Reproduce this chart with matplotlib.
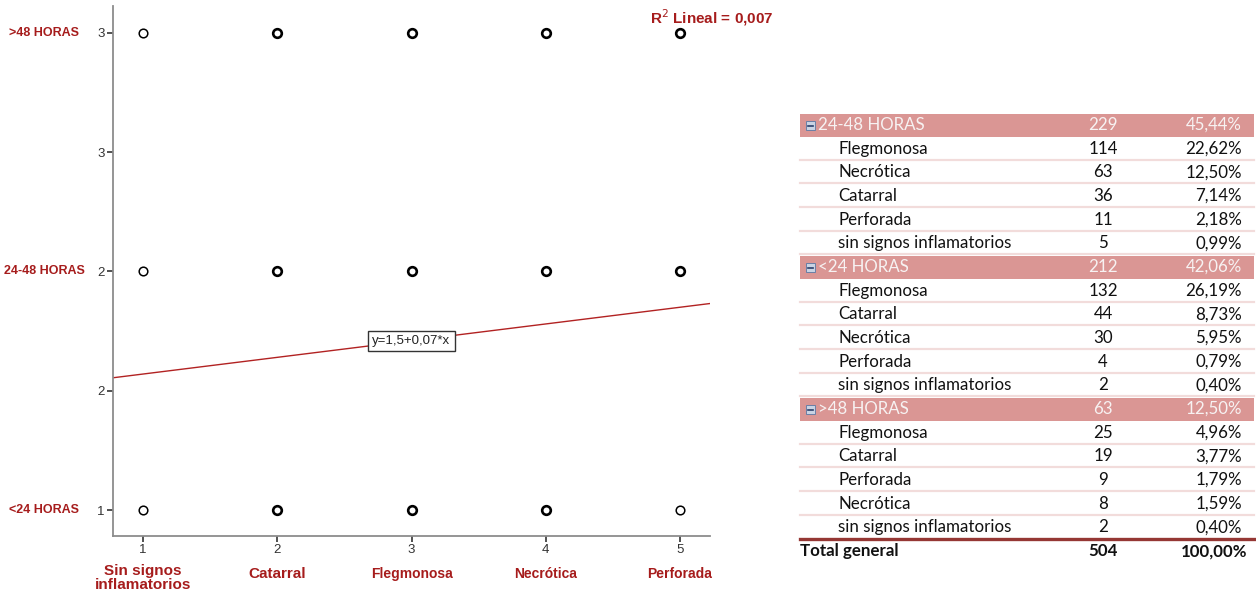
import numpy as np
import matplotlib
matplotlib.use("Agg")
import matplotlib.pyplot as plt
from matplotlib.patches import Rectangle

# Data
CATEGORIES = ["Sin signos\ninflamatorios", "Catarral", "Flegmonosa", "Necrótica", "Perforada"]
CAT_KEYS = ["sin signos inflamatorios", "Catarral", "Flegmonosa", "Necrótica", "Perforada"]
TIME_LABELS = ["<24 HORAS", "24-48 HORAS", ">48 HORAS"]
Y_TICKS = [1, 1.5, 2, 2.5, 3]
Y_TICK_LABELS = ["1", "2", "2", "3", "3"]
INTERCEPT = 1.5
SLOPE = 0.07
R2_TEXT = "R$^2$ Lineal = 0,007"
EQ_TEXT = "y=1,5+0,07*x"

# table (order as in the pivot table)
GROUPS = ["24-48 HORAS", "<24 HORAS", ">48 HORAS"]
GROUP_CODES = [2, 1, 3]
SUB_NAMES = [
    ["Flegmonosa", "Necrótica", "Catarral", "Perforada", "sin signos inflamatorios"],
    ["Flegmonosa", "Catarral", "Necrótica", "Perforada", "sin signos inflamatorios"],
    ["Flegmonosa", "Catarral", "Perforada", "Necrótica", "sin signos inflamatorios"],
]
SUB_COUNTS = [
    [114, 63, 36, 11, 5],
    [132, 44, 30, 4, 2],
    [25, 19, 9, 8, 2],
]
TOTAL = sum(sum(c) for c in SUB_COUNTS)

RED = "#A61C1C"
PINK = "#DA9694"
PINK_LINE = "#F2DCDB"


def pct(n):
    return f"{100 * n / TOTAL:.2f}%".replace(".", ",")


fig = plt.figure(figsize=(12.56, 5.95), dpi=100)
W, H = 1256, 595
ax = fig.add_axes([113 / W, 1 - 536 / H, (710 - 113) / W, (536 - 6) / H])

# scatter points from the table counts
for g, code in enumerate(GROUP_CODES):
    for name, n in zip(SUB_NAMES[g], SUB_COUNTS[g]):
        x = CAT_KEYS.index(name) + 1
        lw = 1.1 if n <= 5 else 1.9
        ax.plot(x, code, "o", ms=6.2, mfc="white", mec="black", mew=lw, zorder=3)

ax.set_xlim(0.7765, 5.2235)
ax.set_ylim(0.891, 3.113)
xs = np.array(ax.get_xlim())
ax.plot(xs, INTERCEPT + SLOPE * xs, color="#B22222", lw=1.0, zorder=2)
ax.text(3, INTERCEPT + SLOPE * 3, EQ_TEXT, ha="center", va="center", fontsize=9.5,
        family="Liberation Sans", color="#222222", zorder=4,
        bbox=dict(boxstyle="square,pad=0.3", fc="white", ec="#333333", lw=1))

for side in ["top", "right"]:
    ax.spines[side].set_visible(False)
for side in ["left", "bottom"]:
    ax.spines[side].set_color("#8C8C8C")
    ax.spines[side].set_linewidth(1.3)

ax.set_xticks(range(1, 6))
ax.set_xticklabels([str(i) for i in range(1, 6)])
ax.set_yticks(Y_TICKS)
ax.set_yticklabels(Y_TICK_LABELS)
ax.tick_params(length=4, width=1.2, color="#333333", labelcolor="#333333",
               labelsize=9.5, pad=2)
for lab in ax.get_xticklabels() + ax.get_yticklabels():
    lab.set_family("Liberation Sans")

cat_sizes = [11, 11, 10, 10, 10]
for i, (lab, fs) in enumerate(zip(CATEGORIES, cat_sizes)):
    yy = -0.079 if "\n" in lab else -0.072
    ax.text(i + 1, yy, lab, transform=ax.get_xaxis_transform(), ha="center",
            va="center", fontsize=fs, fontweight="bold", color=RED,
            family="Liberation Sans", linespacing=0.95)

for code, lab in zip([1, 2, 3], TIME_LABELS):
    ax.text(44 / W, code, lab, transform=ax.get_yaxis_transform().__class__(
        fig.transFigure, ax.transData), ha="center", va="center", fontsize=9,
        fontweight="bold", color=RED,
        family=["Liberation Sans Narrow", "Liberation Sans"])

fig.text(774 / W, 1 - 18 / H, R2_TEXT, ha="right", va="center", fontsize=11,
         fontweight="bold", color=RED, family="Liberation Sans")

# pivot table drawn in pixel coordinates
tax = fig.add_axes([0, 0, 1, 1])
tax.set_xlim(0, W)
tax.set_ylim(H, 0)
tax.axis("off")
tax.patch.set_visible(False)

x0, x1 = 800, 1254
pitch = 23.67
y = 125.0
tfont = "Lato"
fs = 12.2
for g, grp in enumerate(GROUPS):
    gsum = sum(SUB_COUNTS[g])
    tax.add_patch(Rectangle((x0, y - 11.5), x1 - x0, 23, fc=PINK, ec="none"))
    tax.add_patch(Rectangle((805.5, y - 4), 9, 9, fc="#C9D3E3", ec="#6A7FA6", lw=0.7))
    tax.plot([807.5, 812.5], [y + 0.5, y + 0.5], color="#2A3F6A", lw=1.2)
    tax.text(818, y, grp, ha="left", va="center", fontsize=fs, color="#F7F2F2", family=tfont)
    tax.text(1103, y, str(gsum), ha="center", va="center", fontsize=fs, color="#F7F2F2", family=tfont)
    tax.text(1242, y, pct(gsum), ha="right", va="center", fontsize=fs, color="#F7F2F2", family=tfont)
    y += pitch
    for name, n in zip(SUB_NAMES[g], SUB_COUNTS[g]):
        tax.text(838, y, name, ha="left", va="center", fontsize=fs, color="#111111", family=tfont)
        tax.text(1103, y, str(n), ha="center", va="center", fontsize=fs, color="#111111", family=tfont)
        tax.text(1242, y, pct(n), ha="right", va="center", fontsize=fs, color="#111111", family=tfont)
        if not (g == len(GROUPS) - 1 and n == SUB_COUNTS[g][-1]):
            tax.plot([x0, x1], [y + 11, y + 11], color=PINK_LINE, lw=1.6)
        y += pitch

tax.plot([x0, x1], [y - 12, y - 12], color="#953734", lw=2.4)
tax.text(x0, y, "Total general", ha="left", va="center", fontsize=fs, fontweight="bold",
         color="#111111", family=tfont)
tax.text(1103, y, str(TOTAL), ha="center", va="center", fontsize=fs, fontweight="bold",
         color="#111111", family=tfont)
tax.text(1247, y, "100,00%", ha="right", va="center", fontsize=fs, fontweight="bold",
         color="#111111", family=tfont)

fig.savefig("out.png", dpi=100)
